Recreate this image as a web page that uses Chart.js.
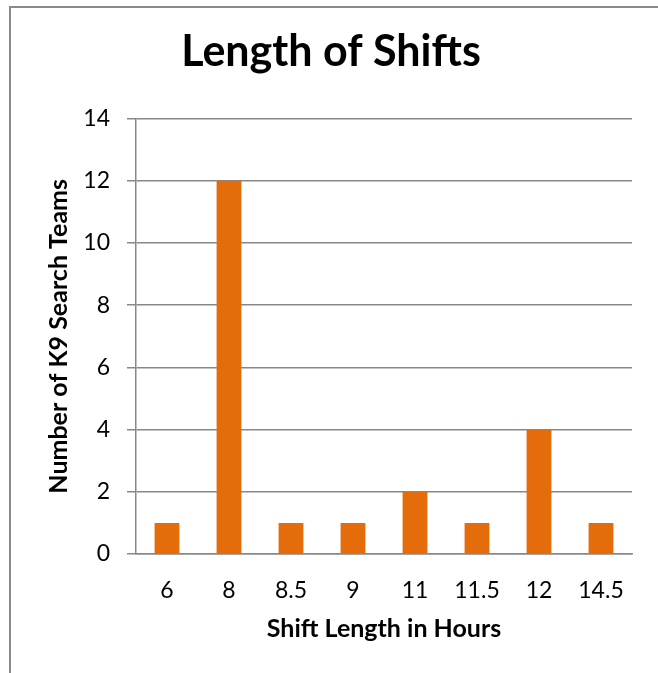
<!DOCTYPE html>
<html>
<head>
<meta charset="utf-8">
<script src="https://cdn.jsdelivr.net/npm/chart.js@4"></script>
<style>
    html, body { margin: 0; padding: 0; background: #fff; }
    #wrap { position: relative; width: 658px; height: 673px; }
    #frame {
        position: absolute; left: 9px; top: 6px; width: 700px; height: 700px;
        border-left: 2px solid #8a8a8a; border-top: 2px solid #8a8a8a;
        pointer-events: none;
    }
</style>
</head>
<body>
<div id="wrap">
    <canvas id="shiftChart" width="658" height="673"></canvas>
    <div id="frame"></div>
</div>
<script>
// Shift lengths (hours) and how many K9 teams worked each
const shiftLabels = ['6', '8', '8.5', '9', '11', '11.5', '12', '14.5'];
const teamCounts = [1, 12, 1, 1, 2, 1, 4, 1];

const barColor = '#E46C0A';
const gridColor = '#888888';
const fontFamily = 'Lato, "Open Sans", sans-serif';

const ctx = document.getElementById('shiftChart').getContext('2d');
new Chart(ctx, {
    type: 'bar',
    data: {
        labels: shiftLabels,
        datasets: [
            {
                data: teamCounts,
                backgroundColor: barColor,
                borderWidth: 0,
                barPercentage: 0.4,
                categoryPercentage: 1,
            },
        ],
    },
    options: {
        responsive: false,
        animation: false,
        layout: { padding: { left: 30, right: 26, top: 0, bottom: 19 } },
        plugins: {
            legend: { display: false },
            tooltip: { enabled: false },
            title: {
                display: true,
                text: 'Length of Shifts',
                color: '#000',
                font: { family: fontFamily, size: 43, weight: 'bold' },
                padding: { top: 26, bottom: 41 },
            },
        },
        scales: {
            x: {
                grid: { display: false, drawTicks: false },
                border: { display: true, color: gridColor, width: 1.5 },
                ticks: { color: '#000', font: { family: fontFamily, size: 23 }, padding: 23 },
                title: {
                    display: true,
                    text: 'Shift Length in Hours',
                    color: '#000',
                    font: { family: fontFamily, size: 25, weight: 'bold' },
                    padding: { top: 0, bottom: 10 },
                },
                afterFit: (axis) => { axis.height = 100; },
            },
            y: {
                min: 0,
                max: 14,
                ticks: { stepSize: 2, color: '#000', font: { family: fontFamily, size: 23 }, padding: 17 },
                grid: { color: gridColor, lineWidth: 1.5, tickLength: 9 },
                border: { display: true, color: gridColor, width: 1.5 },
                title: {
                    display: true,
                    text: 'Number of K9 Search Teams',
                    color: '#000',
                    font: { family: fontFamily, size: 25, weight: 'bold' },
                    padding: { top: 14, bottom: 0 },
                },
                afterFit: (axis) => { axis.width = 106; },
            },
        },
    },
});
</script>
</body>
</html>
